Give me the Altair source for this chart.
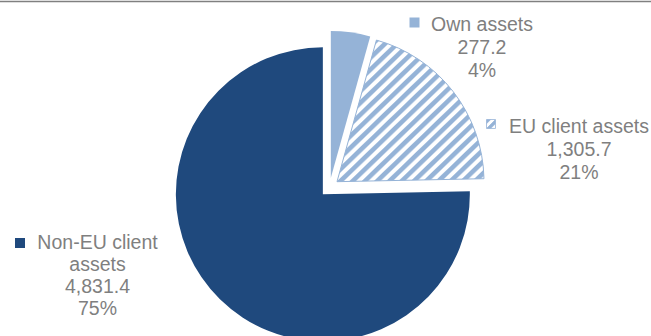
import altair as alt
import pandas as pd

# ---------------- data ----------------
categories = ["Own assets", "EU client assets", "Non-EU client assets"]
values = [277.2, 1305.7, 4831.4]
pct_labels = ["4%", "21%", "75%"]
label_lines = [["Own assets"], ["EU client assets"], ["Non-EU client", "assets"]]

# ---------------- layout / style ----------------
W, H = 651, 336
CX, CY, R, EXPLODE = 329.5, 187.5, 147, 9.5
DARK, LIGHT, TEXT = "#1f497d", "#95b3d7", "#7f7f7f"
FONT = "Liberation Sans"
FS = 19.5
# label block: centre x, first baseline, line step, legend-key x, key y, key size
label_layout = {
    "Own assets": (482, 31, 23, 414.5, 22.5, 100),
    "EU client assets": (579, 132.5, 23, 491, 124, 80),
    "Non-EU client assets": (97.5, 249, 22, 20, 243, 100),
}


def stripes(n):
    stops = []
    for k in range(n):
        stops += [
            {"offset": (k + 0.02) / n, "color": LIGHT},
            {"offset": (k + 0.42) / n, "color": LIGHT},
            {"offset": (k + 0.58) / n, "color": "#ffffff"},
            {"offset": (k + 0.90) / n, "color": "#ffffff"},
        ]
    return {"gradient": "linear", "x1": 0, "y1": 0, "x2": 1, "y2": 1, "stops": stops}


pie_df = pd.DataFrame({"category": categories, "value": values, "order": list(range(len(categories)))})

color_scale = alt.Scale(domain=categories, range=[LIGHT, "#ffffff", DARK])

base = (
    alt.Chart(pie_df)
    .transform_joinaggregate(total="sum(value)")
    .transform_window(cum="sum(value)", sort=[alt.SortField("order")], frame=[None, 0])
    .transform_calculate(
        a0="2*PI*(datum.cum - datum.value)/datum.total",
        a1="2*PI*datum.cum/datum.total",
    )
    .transform_calculate(mid="(datum.a0 + datum.a1)/2")
    .transform_calculate(
        cx=f"{CX} + {EXPLODE}*sin(datum.mid)",
        cy=f"{CY} - {EXPLODE}*cos(datum.mid)",
    )
)

enc = dict(
    theta=alt.Theta("a0:Q", scale=None),
    theta2=alt.Theta2("a1:Q"),
    x=alt.X("cx:Q", scale=None),
    y=alt.Y("cy:Q", scale=None),
)

solid = (
    base.transform_filter("datum.category != 'EU client assets'")
    .mark_arc(outerRadius=R)
    .encode(color=alt.Color("category:N", scale=color_scale, legend=None), **enc)
)

hatched = (
    base.transform_filter("datum.category == 'EU client assets'")
    .mark_arc(outerRadius=R, fill=stripes(24), stroke=LIGHT, strokeWidth=1)
    .encode(**enc)
)

# ---------------- labels ----------------
rows = []
keys = []
for i, cat in enumerate(categories):
    cx_, y0, step, kx, ky, ks = label_layout[cat]
    lines = label_lines[i] + [f"{values[i]:,.1f}", pct_labels[i]]
    for j, t in enumerate(lines):
        rows.append({"category": cat, "text": t, "lx": cx_, "ly": y0 + j * step})
    keys.append({"category": cat, "kx": kx, "ky": ky, "ks": ks})

lab_df = pd.DataFrame(rows)
key_df = pd.DataFrame(keys)

texts = (
    alt.Chart(lab_df)
    .mark_text(align="center", baseline="alphabetic", font=FONT, fontSize=FS, color=TEXT)
    .encode(x=alt.X("lx:Q", scale=None), y=alt.Y("ly:Q", scale=None), text="text:N")
)

keys_solid = (
    alt.Chart(key_df)
    .transform_filter("datum.category != 'EU client assets'")
    .mark_square(opacity=1)
    .encode(
        x=alt.X("kx:Q", scale=None),
        y=alt.Y("ky:Q", scale=None),
        size=alt.Size("ks:Q", scale=None),
        color=alt.Color("category:N", scale=color_scale, legend=None),
    )
)

keys_hatch = (
    alt.Chart(key_df)
    .transform_filter("datum.category == 'EU client assets'")
    .mark_square(opacity=1, fill=stripes(2), stroke=LIGHT, strokeWidth=0.8)
    .encode(
        x=alt.X("kx:Q", scale=None),
        y=alt.Y("ky:Q", scale=None),
        size=alt.Size("ks:Q", scale=None),
    )
)

top_line = (
    alt.Chart(alt.Data(values=[{"a": 1}]))
    .mark_rule(color="#808080", strokeWidth=1.5)
    .encode(x=alt.value(0), x2=alt.value(W), y=alt.value(1.5))
)

chart = (
    alt.layer(solid, hatched, keys_solid, keys_hatch, texts, top_line)
    .properties(width=W, height=H, padding=0, autosize="none", background="white")
    .configure_view(stroke=None)
)

chart.save("out.html", embed_options={"renderer": "svg", "actions": False})
